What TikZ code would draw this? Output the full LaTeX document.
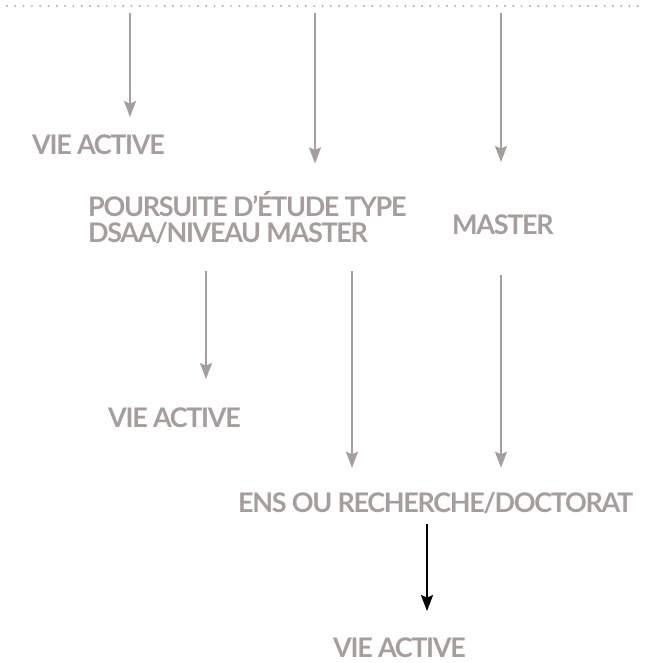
\documentclass[tikz,border=0pt]{standalone}
\usepackage{fontspec}
\setmainfont{Lato}[LetterSpace=-5]
\usetikzlibrary{arrows.meta}

\definecolor{taupe}{RGB}{166,158,156}
\definecolor{dotgrey}{RGB}{178,171,169}

\tikzset{
    lbl/.style={inner sep=0, anchor=base west, text=taupe,
        font=\fontsize{27}{26}\selectfont\bfseries, text depth=0pt},
    arr/.style={draw=taupe, line width=2pt,
        -{Stealth[length=16pt, width=12pt, inset=2.5pt]}},
    arrdark/.style={arr, draw=black}
}

\begin{document}
\begin{tikzpicture}[x=1pt, y=-1pt]
    \useasboundingbox (0, 0) rectangle (645, 663);

    \draw[dotgrey, line width=2.2pt, line cap=round, dash pattern=on 0pt off 8.3pt] (7, 6) -- (645, 6);

    \draw (32, 155) node[lbl] (vie1) {VIE ACTIVE};
    \draw (88, 243) node[lbl, anchor=south west, align=left] (poursuite) {POURSUITE D'ÉTUDE TYPE\\DSAA/NIVEAU MASTER};
    \draw (452, 234) node[lbl] (master) {MASTER};
    \draw (108, 427) node[lbl] (vie2) {VIE ACTIVE};
    \draw (238, 512) node[lbl] (ens) {ENS OU RECHERCHE/DOCTORAT};
    \draw (333, 657) node[lbl] (vie3) {VIE ACTIVE};

    % columns of the arrows
    \coordinate (s1) at (130, 13);
    \coordinate (s2) at (315, 13);
    \coordinate (s3) at (501, 13);
    \coordinate (c4) at (206, 0);
    \coordinate (c5) at (352, 0);
    \coordinate (c6) at (427, 0);

    \draw[arr, shorten >=18pt] (s1) -- (s1 |- vie1.north);
    \draw[arr, shorten >=28pt] (s2) -- (s2 |- poursuite.north);
    \draw[arr, shorten >=52pt] (s3) -- (s3 |- master.north);

    \draw[arr, shorten <=28pt, shorten >=28pt] (c4 |- poursuite.south) -- (c4 |- vie2.north);
    \draw[arr, shorten <=28pt, shorten >=24pt] (c5 |- poursuite.south) -- (c5 |- ens.north);
    \draw[arr, shorten <=41pt, shorten >=24pt] (master.south -| s3) -- (s3 |- ens.north);

    \draw[arrdark, shorten <=12pt, shorten >=26pt] (c6 |- ens.south) -- (c6 |- vie3.north);
\end{tikzpicture}
\end{document}
